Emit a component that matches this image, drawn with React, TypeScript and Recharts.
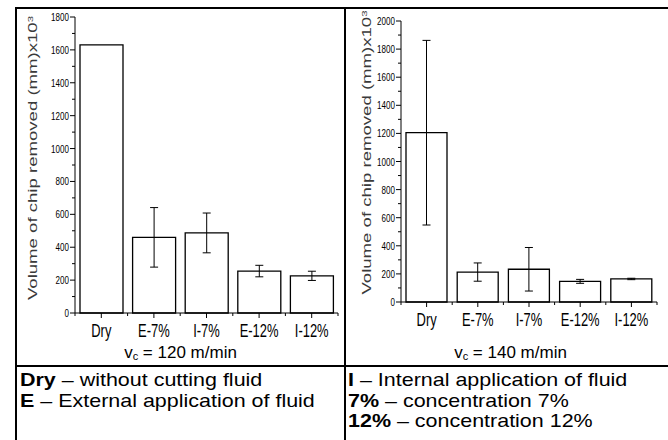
import React from "react";
import { BarChart, Bar, XAxis, YAxis, ErrorBar, Label } from "recharts";

const categories = ["Dry", "E-7%", "I-7%", "E-12%", "I-12%"];
const volume120 = [1630, 460, 487, 255, 226];
const error120 = [null, 181, 121, 35, 28];
const volume140 = [1205, 213, 233, 147, 164];
const error140 = [657, 65, 155, 14, 5];
const ticks120 = [0, 100, 200, 300, 400, 500, 600, 700, 800, 900, 1000, 1100, 1200, 1300, 1400, 1500, 1600, 1700, 1800];
const ticks140 = [0, 100, 200, 300, 400, 500, 600, 700, 800, 900, 1000, 1100, 1200, 1300, 1400, 1500, 1600, 1700, 1800, 1900, 2000];

const data120 = categories.map((name, i) => ({ name, value: volume120[i], err: error120[i] }));
const data140 = categories.map((name, i) => ({ name, value: volume140[i], err: error140[i] }));

const FONT = "'Liberation Sans', Arial, sans-serif";

const YTick = (props: any) => {
  const { x, y, payload } = props;
  const major = payload.value % 200 === 0;
  return (
    <g>
      <line x1={x + (major ? 1 : 3)} x2={x + 6} y1={y} y2={y} stroke="#000" strokeWidth={1} />
      {major && (
        <text
          transform={`translate(${x},${y}) scale(0.7,1)`}
          textAnchor="end"
          dy="0.35em"
          fontSize={11.5}
          fontFamily={FONT}
          fill="#000"
        >
          {payload.value}
        </text>
      )}
    </g>
  );
};

const makeXTick = (band: number) => (props: any) => {
  const { x, y, payload, index } = props;
  const half = band / 2;
  return (
    <g>
      <line x1={x} x2={x} y1={y - 5} y2={y} stroke="#000" strokeWidth={1} />
      <line x1={x - half} x2={x - half} y1={y - 5} y2={y - 2} stroke="#000" strokeWidth={1} />
      {index === categories.length - 1 && (
        <line x1={x + half} x2={x + half} y1={y - 5} y2={y - 2} stroke="#000" strokeWidth={1} />
      )}
      <text
        transform={`translate(${x},${y + 18.5}) scale(0.72,1)`}
        textAnchor="middle"
        fontSize={18}
        fontFamily={FONT}
        fill="#000"
      >
        {payload.value}
      </text>
    </g>
  );
};

const makeTitle = (dx: number, dy: number) => (props: any) => {
  const vb = props.viewBox || {};
  const cx = (vb.x || 0) + dx;
  const cy = (vb.y || 0) + vb.height / 2 + dy;
  return (
    <text
      transform={`translate(${cx},${cy}) rotate(-90) scale(1.43,1)`}
      textAnchor="middle"
      dy="0.35em"
      fontSize={13}
      fontFamily={FONT}
      fill="#3a3a3a"
    >
      Volume of chip removed (mm)x10
      <tspan dy="-0.45em" fontSize={8}>3</tspan>
    </text>
  );
};

const Caption = ({ left, speed }: { left: number; speed: string }) => (
  <div
    style={{
      position: "absolute",
      left,
      width: 329,
      top: 343,
      textAlign: "center",
      fontFamily: FONT,
      fontSize: 17,
      lineHeight: "20px",
    }}
  >
    v<sub style={{ fontSize: 11, verticalAlign: "-2px" }}>c</sub> = {speed}
  </div>
);

const line = (left: number, top: number, width: number, height: number) => (
  <div style={{ position: "absolute", left, top, width, height, background: "#000" }} />
);

export default function App() {
  const legendStyle: React.CSSProperties = {
    position: "absolute",
    top: 370,
    fontFamily: FONT,
    fontSize: 19,
    lineHeight: "20.5px",
    whiteSpace: "nowrap",
    transform: "scaleX(1.13)",
    transformOrigin: "0 0",
  };
  return (
    <div style={{ position: "relative", width: 668, height: 440, overflow: "hidden", background: "#fff" }}>
      <style>{"body{margin:0}"}</style>
      {line(16, 7, 652, 2)}
      {line(15, 7, 2, 433)}
      {line(344, 7, 2, 433)}
      {line(16, 365, 652, 2)}

      <div style={{ position: "absolute", left: 0, top: 0 }}>
        <BarChart width={345} height={345} data={data120} margin={{ top: 17, right: 7, left: 0, bottom: 2 }}>
          <XAxis
            dataKey="name"
            height={30}
            tickSize={5}
            tickMargin={0}
            tickLine={false}
            axisLine={{ stroke: "#000", strokeWidth: 1 }}
            tick={makeXTick(263 / 5)}
            interval={0}
          />
          <YAxis
            width={75}
            domain={[0, 1800]}
            ticks={ticks120}
            interval={0}
            tickSize={5}
            tickMargin={1}
            tickLine={false}
            axisLine={{ stroke: "#000", strokeWidth: 1 }}
            tick={<YTick />}
          >
            <Label content={makeTitle(32, -7)} />
          </YAxis>
          <Bar dataKey="value" fill="#fff" stroke="#000" strokeWidth={1.3} barSize={43} isAnimationActive={false}>
            <ErrorBar dataKey="err" width={4} stroke="#000" strokeWidth={1} />
          </Bar>
        </BarChart>
      </div>

      <div style={{ position: "absolute", left: 345, top: 0 }}>
        <BarChart width={323} height={345} data={data140} margin={{ top: 21, right: 11, left: 0, bottom: 13 }}>
          <XAxis
            dataKey="name"
            height={30}
            tickSize={5}
            tickMargin={0}
            tickLine={false}
            axisLine={{ stroke: "#000", strokeWidth: 1 }}
            tick={makeXTick(256 / 5)}
            interval={0}
          />
          <YAxis
            width={56}
            domain={[0, 2000]}
            ticks={ticks140}
            interval={0}
            tickSize={5}
            tickMargin={1}
            tickLine={false}
            axisLine={{ stroke: "#000", strokeWidth: 1 }}
            tick={<YTick />}
          >
            <Label content={makeTitle(21, -9)} />
          </YAxis>
          <Bar dataKey="value" fill="#fff" stroke="#000" strokeWidth={1.3} barSize={41} isAnimationActive={false}>
            <ErrorBar dataKey="err" width={4} stroke="#000" strokeWidth={1} />
          </Bar>
        </BarChart>
      </div>

      <Caption left={16} speed="120 m/min" />
      <Caption left={346} speed="140 m/min" />

      <div style={{ ...legendStyle, left: 20 }}>
        <div><b>Dry</b> – without cutting fluid</div>
        <div><b>E</b> – External application of fluid</div>
      </div>
      <div style={{ ...legendStyle, left: 348 }}>
        <div><b>I</b> – Internal application of fluid</div>
        <div><b>7%</b> – concentration 7%</div>
        <div><b>12%</b> – concentration 12%</div>
      </div>
    </div>
  );
}
